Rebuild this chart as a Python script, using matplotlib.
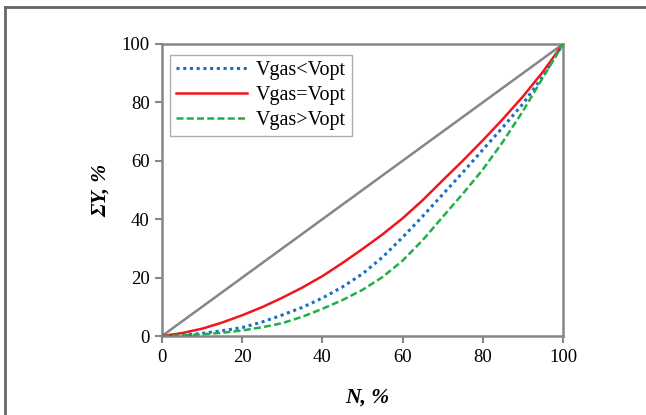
import matplotlib
matplotlib.use("Agg")
import matplotlib.pyplot as plt
from matplotlib.lines import Line2D

N = [0, 5, 10, 15, 20, 25, 30, 35, 40, 45, 50, 55, 60, 65, 70, 75, 80, 85, 90, 95, 100]
y_less = [0, 0.3, 0.9, 1.8, 2.9, 4.8, 7.2, 9.8, 13, 16.8, 21.3, 27, 33.8, 41, 48.5, 56, 63.8, 71.5, 79.5, 89, 100]
y_equal = [0, 1, 2.5, 4.6, 7.1, 9.9, 13.1, 16.6, 20.5, 25, 29.8, 34.8, 40.3, 46.5, 53.3, 60, 67, 74.3, 82, 90.5, 100]
y_more = [0, 0.2, 0.6, 1.1, 1.9, 3, 4.4, 6.6, 9.3, 12.3, 15.8, 20.2, 25.8, 32.8, 40.8, 48.7, 57, 66.5, 77, 88.5, 100]
diag_x = [0, 100]
diag_y = [0, 100]
labels = ["Vgas<Vopt", "Vgas=Vopt", "Vgas>Vopt"]
ticks = [0, 20, 40, 60, 80, 100]

plt.rcParams['font.family'] = ['Liberation Serif', 'DejaVu Serif']

W, H = 646, 415
fig = plt.figure(figsize=(W / 100, H / 100), dpi=100)
ax = fig.add_axes([162 / W, (H - 336) / H, (563 - 162) / W, (336 - 44) / H])

gray = '#868686'
ax.plot(diag_x, diag_y, color=gray, lw=1.8, zorder=2)
l1, = ax.plot(N, y_less, color='#1b6fc2', lw=2.2, ls=(0, (1, 1.2)), zorder=3, label=labels[0])
l2, = ax.plot(N, y_equal, color='#f0161d', lw=1.8, ls='-', zorder=3, label=labels[1])
l3, = ax.plot(N, y_more, color='#20b04a', lw=1.8, ls=(0, (2.8, 1.3)), zorder=3, label=labels[2])

ax.set_xlim(0, 100)
ax.set_ylim(0, 100)
ax.set_xticks(ticks)
ax.set_yticks(ticks)
for s in ax.spines.values():
    s.set_color(gray)
    s.set_linewidth(1.8)
ax.tick_params(direction='out', length=5, width=1.5, color=gray, labelsize=13.5, pad=4)

ax.set_xlabel('N, %', fontsize=15.5, fontweight='bold', fontstyle='italic')
ax.set_ylabel('ΣY, %', fontsize=15.5, fontweight='bold', fontstyle='italic')
ax.xaxis.set_label_coords((367 - 162) / 401, (336 - 388) / 292)
ax.yaxis.set_label_coords((111 - 162) / 401, 0.5)

leg = ax.legend(handles=[l1, l2, l3], loc='upper left', bbox_to_anchor=(8 / 401, 1 - 11 / 292),
                frameon=True, fancybox=False, fontsize=14.5, handlelength=3.5,
                borderpad=0.3, labelspacing=0.3, handletextpad=0.45, borderaxespad=0)
leg.get_frame().set_edgecolor('#999999')
leg.get_frame().set_linewidth(1.0)

# outer border (top and left)
fig.add_artist(Line2D([4.5 / W, 1], [1 - 7.5 / H, 1 - 7.5 / H], transform=fig.transFigure, color='#666666', lw=2))
fig.add_artist(Line2D([4.5 / W, 4.5 / W], [0, 1 - 7.5 / H], transform=fig.transFigure, color='#666666', lw=2))

fig.savefig('out.png', dpi=100)
